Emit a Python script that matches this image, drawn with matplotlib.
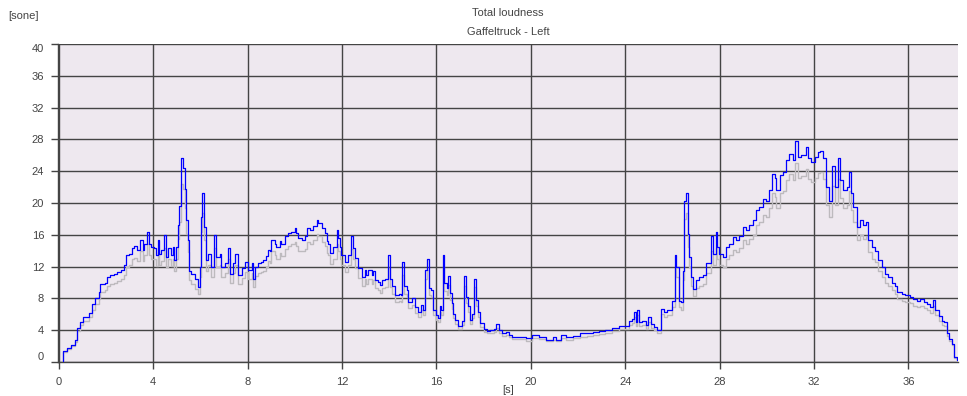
import numpy as np
import matplotlib
matplotlib.use("Agg")
import matplotlib.pyplot as plt

# time axis [s] and loudness [sone]
t = [0.17, 0.2, 0.37, 0.5, 0.7, 0.77, 0.91, 1.05, 1.27, 1.41, 1.55, 1.7, 1.77, 1.98, 2.05, 2.19, 2.34, 2.48, 2.62, 2.76,
     2.83, 2.98, 3.12, 3.19, 3.33, 3.45, 3.55, 3.62, 3.73, 3.83, 3.9, 4.05, 4.12, 4.19, 4.26, 4.33, 4.47, 4.54, 4.62, 4.76,
     4.83, 4.9, 4.97, 5.04, 5.11, 5.18, 5.26, 5.33, 5.4, 5.47, 5.54, 5.61, 5.76, 5.9, 5.97, 6.04, 6.08, 6.15, 6.25, 6.32,
     6.47, 6.58, 6.68, 6.82, 6.89, 7.04, 7.18, 7.25, 7.39, 7.46, 7.58, 7.75, 7.89, 8.03, 8.17, 8.24, 8.31, 8.45, 8.59, 8.66,
     8.8, 8.87, 8.94, 9.0, 9.15, 9.22, 9.36, 9.43, 9.58, 9.72, 9.86, 10.0, 10.07, 10.14, 10.29, 10.43, 10.5, 10.64, 10.78, 10.93,
     11.0, 11.14, 11.28, 11.35, 11.42, 11.49, 11.63, 11.77, 11.84, 11.91, 11.98, 12.13, 12.27, 12.38, 12.48, 12.55, 12.69, 12.83, 12.97, 13.04,
     13.12, 13.26, 13.33, 13.4, 13.54, 13.61, 13.68, 13.82, 13.94, 14.04, 14.14, 14.25, 14.4, 14.51, 14.56, 14.65, 14.74, 14.81, 14.95, 15.1,
     15.24, 15.33, 15.43, 15.53, 15.6, 15.67, 15.76, 15.86, 16.0, 16.07, 16.14, 16.21, 16.26, 16.33, 16.43, 16.5, 16.57, 16.65, 16.72, 16.79,
     16.93, 17.08, 17.18, 17.25, 17.33, 17.43, 17.5, 17.6, 17.67, 17.76, 17.86, 18.0, 18.15, 18.29, 18.44, 18.54, 18.65, 18.8, 18.93, 19.08,
     19.22, 19.5, 19.79, 20.07, 20.36, 20.65, 20.93, 21.08, 21.3, 21.5, 21.79, 22.07, 22.4, 22.65, 22.88, 23.16, 23.45, 23.73, 24.0, 24.16,
     24.3, 24.37, 24.44, 24.51, 24.58, 24.72, 24.87, 24.98, 25.08, 25.22, 25.36, 25.5, 25.65, 25.79, 25.93, 26.0, 26.11, 26.17, 26.26, 26.35,
     26.43, 26.5, 26.57, 26.64, 26.71, 26.78, 26.89, 26.99, 27.13, 27.28, 27.42, 27.56, 27.63, 27.7, 27.84, 27.91, 27.99, 28.13, 28.27, 28.41,
     28.55, 28.7, 28.84, 28.98, 29.12, 29.26, 29.4, 29.55, 29.69, 29.83, 29.97, 30.11, 30.23, 30.33, 30.4, 30.54, 30.68, 30.82, 30.96, 31.11,
     31.19, 31.32, 31.46, 31.65, 31.74, 31.89, 32.03, 32.17, 32.27, 32.38, 32.52, 32.64, 32.78, 32.88, 33.02, 33.12, 33.23, 33.38, 33.48, 33.55,
     33.66, 33.8, 33.94, 34.09, 34.2, 34.3, 34.44, 34.58, 34.72, 34.87, 35.01, 35.15, 35.29, 35.43, 35.53, 35.72, 35.86, 36.07, 36.21, 36.35,
     36.5, 36.64, 36.78, 36.92, 37.06, 37.13, 37.28, 37.42, 37.49, 37.63, 37.73, 37.84, 37.91, 38.06, 38.15]

blue = [0.0, 1.4, 1.8, 2.2, 2.8, 4.3, 5.0, 5.6, 6.2, 7.3, 8.1, 8.8, 9.8, 10.0, 10.7, 10.9, 11.1, 11.3, 11.6, 12.2,
        13.4, 13.6, 14.3, 14.6, 14.1, 15.4, 14.1, 14.9, 16.4, 14.9, 14.5, 14.3, 13.4, 15.3, 13.6, 14.1, 16.0, 13.2, 14.3, 13.4,
        14.5, 12.8, 14.5, 17.2, 19.6, 25.7, 24.4, 21.7, 17.9, 15.3, 11.5, 11.1, 10.5, 9.4, 11.9, 18.3, 21.2, 17.0, 12.8, 13.6,
        11.9, 16.0, 13.2, 13.6, 11.9, 12.4, 14.3, 11.1, 12.4, 13.6, 10.9, 11.8, 12.6, 11.6, 12.4, 10.5, 12.0, 12.4, 12.6, 12.8,
        13.3, 14.1, 13.9, 15.4, 14.9, 14.5, 15.2, 14.8, 15.8, 16.2, 16.4, 16.8, 16.2, 15.6, 15.4, 15.8, 16.8, 16.6, 17.1, 17.9,
        17.5, 16.8, 16.2, 15.2, 14.9, 13.7, 14.5, 16.6, 15.6, 14.5, 13.5, 12.6, 13.5, 15.8, 14.3, 13.1, 11.8, 10.7, 11.6, 10.9,
        11.6, 10.9, 11.4, 10.3, 10.1, 9.7, 10.3, 10.5, 13.5, 10.5, 9.5, 8.4, 8.6, 8.4, 12.6, 9.5, 9.1, 7.6, 8.0, 6.9,
        6.3, 7.2, 6.6, 11.6, 12.9, 9.3, 9.1, 6.6, 5.9, 5.5, 7.0, 6.6, 13.5, 9.9, 9.3, 10.8, 8.7, 7.4, 6.1, 5.3,
        4.5, 5.1, 10.8, 8.2, 7.0, 5.3, 6.1, 10.5, 7.8, 6.3, 4.9, 4.2, 3.9, 4.0, 4.2, 4.8, 4.0, 3.6, 3.8, 3.4,
        3.2, 3.2, 3.0, 3.4, 3.2, 2.8, 3.1, 2.8, 3.4, 3.1, 3.3, 3.6, 3.7, 3.8, 3.9, 4.0, 4.3, 4.5, 4.5, 5.2,
        5.4, 6.3, 5.0, 6.5, 5.0, 5.1, 4.7, 5.6, 4.8, 4.4, 4.0, 6.7, 6.3, 6.6, 6.5, 7.7, 13.4, 11.9, 7.7, 7.5,
        11.5, 20.3, 21.3, 16.1, 13.2, 10.7, 9.2, 10.3, 10.7, 10.9, 12.4, 12.4, 15.9, 13.6, 16.3, 14.5, 13.6, 13.2, 14.5, 14.9,
        15.7, 15.3, 15.9, 17.0, 16.6, 17.2, 17.8, 19.1, 19.5, 20.5, 20.3, 21.6, 23.6, 23.1, 21.6, 23.5, 23.9, 25.4, 26.2, 25.4,
        27.8, 25.8, 26.0, 27.0, 25.6, 25.2, 25.8, 26.4, 26.6, 25.6, 22.0, 20.3, 24.7, 22.0, 25.6, 22.9, 21.6, 22.0, 23.9, 21.2,
        19.5, 17.0, 17.8, 17.2, 17.6, 15.3, 14.5, 14.0, 12.8, 11.9, 11.1, 10.7, 10.0, 9.6, 8.8, 8.6, 8.4, 8.2, 7.9, 7.7,
        7.9, 7.5, 7.3, 6.9, 7.8, 6.5, 5.8, 5.2, 5.0, 3.7, 2.9, 2.3, 0.6, 0.25, 0.2]

gray = [0.0, 1.2, 1.6, 2.0, 2.5, 3.9, 4.6, 5.1, 5.6, 6.6, 7.3, 7.9, 8.8, 9.0, 9.6, 9.8, 10.0, 10.2, 10.4, 11.0,
        12.0, 12.2, 12.9, 13.1, 12.7, 13.9, 12.7, 13.4, 14.8, 13.4, 13.0, 12.9, 12.1, 13.8, 12.2, 12.7, 14.4, 11.9, 12.9, 12.1,
        13.0, 11.5, 13.0, 15.5, 17.6, 22.4, 21.8, 19.4, 16.1, 13.8, 10.3, 9.8, 9.2, 8.6, 10.7, 16.4, 18.8, 15.3, 11.5, 12.2,
        10.7, 14.4, 11.9, 12.2, 10.7, 11.2, 12.9, 10.0, 11.2, 12.2, 9.8, 10.6, 11.3, 10.4, 11.2, 9.4, 10.8, 11.2, 11.3, 11.5,
        12.0, 12.7, 12.5, 13.9, 13.4, 13.0, 13.7, 13.3, 14.2, 14.6, 14.8, 15.1, 14.6, 14.0, 13.9, 14.2, 15.1, 14.9, 15.4, 16.1,
        15.8, 15.1, 14.6, 13.7, 13.4, 12.3, 13.0, 14.9, 14.0, 13.0, 12.2, 11.3, 12.2, 14.2, 12.9, 11.8, 10.6, 9.6, 10.4, 9.8,
        10.4, 9.8, 10.3, 9.3, 9.1, 8.7, 9.3, 9.4, 11.8, 9.4, 8.6, 7.6, 7.7, 7.6, 11.0, 8.6, 8.2, 6.8, 7.2, 6.2,
        5.7, 6.5, 5.9, 10.4, 11.6, 8.4, 8.2, 5.9, 5.3, 5.0, 6.3, 5.9, 12.0, 8.9, 8.4, 9.7, 7.8, 6.7, 5.5, 4.8,
        4.1, 4.6, 9.6, 7.4, 6.3, 4.8, 5.5, 9.4, 7.0, 5.7, 4.4, 3.8, 3.6, 3.7, 3.8, 4.3, 3.7, 3.3, 3.4, 3.1,
        2.9, 2.9, 2.7, 3.0, 2.9, 2.6, 2.8, 2.6, 3.0, 2.8, 3.0, 3.2, 3.3, 3.4, 3.5, 3.6, 3.9, 4.1, 4.1, 4.7,
        4.9, 5.7, 4.5, 5.9, 4.5, 4.6, 4.2, 5.0, 4.3, 4.0, 3.6, 6.0, 5.7, 5.9, 5.9, 6.9, 11.8, 10.7, 6.9, 6.6,
        10.3, 18.0, 18.8, 14.5, 11.9, 9.6, 8.3, 9.3, 9.6, 9.8, 11.2, 11.2, 14.0, 12.2, 14.4, 13.0, 12.2, 11.9, 13.0, 13.4,
        14.1, 13.8, 14.3, 15.3, 14.9, 15.5, 16.0, 17.2, 17.6, 18.5, 18.3, 19.4, 21.2, 20.8, 19.4, 21.2, 21.5, 22.9, 23.6, 22.9,
        25.0, 23.2, 23.4, 24.3, 23.0, 22.7, 23.2, 23.8, 23.9, 23.0, 19.8, 18.3, 22.2, 19.8, 23.0, 20.6, 19.4, 19.8, 21.5, 19.1,
        17.6, 15.3, 16.0, 15.5, 15.8, 13.8, 13.0, 12.6, 11.5, 10.7, 10.0, 9.6, 9.0, 8.6, 7.9, 7.7, 7.6, 7.4, 7.1, 6.9,
        7.1, 6.8, 6.6, 6.2, 7.0, 5.9, 5.2, 4.7, 4.5, 3.3, 2.6, 2.1, 0.5, 0.2, 0.2]

xticks = [0, 4, 8, 12, 16, 20, 24, 28, 32, 36]
yticks = [0, 4, 8, 12, 16, 20, 24, 28, 32, 36, 40]

txt = "#444444"
plt.rcParams["font.family"] = ["Liberation Sans", "DejaVu Sans"]
plt.rcParams["font.size"] = 8

fig = plt.figure(figsize=(9.67, 3.96), dpi=100)
ax = fig.add_axes([58 / 967, 1 - 362 / 396, 900 / 967, 318 / 396])
ax.set_facecolor("#eee8ef")

ax.plot(t, gray, color="#bdbabe", lw=1.0, drawstyle="steps-post", zorder=3)
ax.plot(t, blue, color="#0000ff", lw=0.9, drawstyle="steps-post", zorder=4)

ax.set_xlim(-0.03, 38.1)
ax.set_ylim(0, 40)
ax.set_xticks(xticks)
ax.set_yticks(yticks)
ax.grid(True, color="#444444", lw=1.0, zorder=1)
ax.set_axisbelow(True)

for s in ["top", "right"]:
    ax.spines[s].set_visible(False)
for s in ["left", "bottom"]:
    ax.spines[s].set_color("#444444")
    ax.spines[s].set_linewidth(1.0)

ax.tick_params(axis="both", direction="out", length=5, width=1, color="#444444",
               labelcolor=txt, labelsize=8)
ax.tick_params(axis="x", pad=6)
ax.tick_params(axis="y", pad=5)

# end labels on y axis are pushed inside the axis range
ylabs = ax.get_yticklabels()
ylabs[0].set_va("bottom")
ylabs[-1].set_va("top")

fig.text(8 / 967, 1 - 16 / 396, "[sone]", color=txt, fontsize=8, va="center", ha="left")
fig.text(508 / 967, 1 - 13 / 396, "Total loudness", color=txt, fontsize=8, va="center", ha="center")
fig.text(508 / 967, 1 - 32 / 396, "Gaffeltruck - Left", color=txt, fontsize=8, va="center", ha="center")
fig.text(508 / 967, 1 - 390 / 396, "[s]", color=txt, fontsize=8, va="center", ha="center")

fig.savefig("out.png", dpi=100)
